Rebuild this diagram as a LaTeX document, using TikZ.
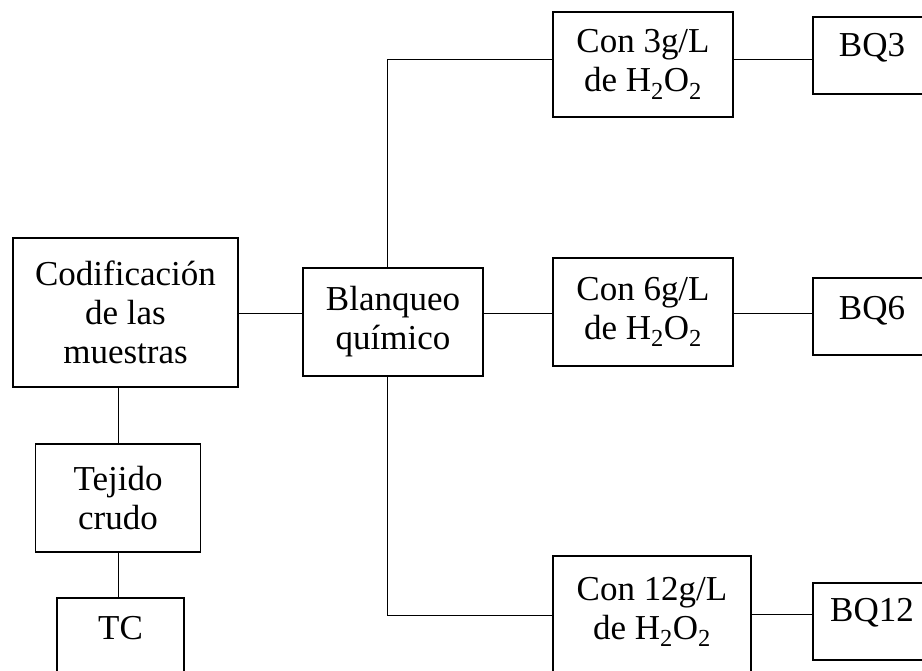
\documentclass[tikz,border=0pt]{standalone}
\usepackage{fontspec}
\setmainfont{Liberation Serif}
\begin{document}
\begin{tikzpicture}[x=1pt,y=-1pt,
  box/.style={draw, line width=1.3pt, inner sep=0pt, align=center,
    font=\fontsize{35}{39}\selectfont},
  lbl/.style={inner sep=0pt, align=center, font=\fontsize{35}{39}\selectfont},
  conn/.style={line width=0.9pt}]
\useasboundingbox (0,0) rectangle (922,671);
\clip (0,0) rectangle (922,671);
% boxes
\node[box, minimum width=225pt, minimum height=149pt] (cod) at (125.5,312.5) {Codificación\\de las\\muestras};
\node[box, minimum width=180pt, minimum height=108pt] (blan) at (393,322) {Blanqueo\\químico};
\node[box, minimum width=165pt, minimum height=108pt] (tej) at (118,498) {Tejido\\crudo};
\node[box, minimum width=127pt, minimum height=110pt] (tc) at (120.5,653) {};
\node[lbl] (tct) at (120.5,628) {TC};
\node[box, minimum width=180pt, minimum height=105pt] (con3) at (643,64.5) {Con 3g/L\\de H\textsubscript{2}O\textsubscript{2}};
\node[box, minimum width=180pt, minimum height=108pt] (con6) at (643,312) {Con 6g/L\\de H\textsubscript{2}O\textsubscript{2}};
\node[box, minimum width=198pt, minimum height=130pt] (con12) at (652,621) {};
\node[lbl] (con12t) at (652,612) {Con 12g/L\\de H\textsubscript{2}O\textsubscript{2}};
\node[box, minimum width=118pt, minimum height=77pt] (bq3) at (872,55.5) {};
\node[lbl] (bq3t) at (872,47.5) {BQ3};
\node[box, minimum width=118pt, minimum height=77pt] (bq6) at (872,316.5) {};
\node[lbl] (bq6t) at (872,311) {BQ6};
\node[box, minimum width=118pt, minimum height=77pt] (bq12) at (872,621.5) {};
\node[lbl] (bq12t) at (872,613) {BQ12};
% junction coordinates
\coordinate (ytop) at (387,59);
\coordinate (ymid) at (0,313);
\coordinate (ybot) at (387,615);
\coordinate (y12) at (0,614);
% connectors
\draw[conn] (cod.east |- ymid) -- (blan.west |- ymid);
\draw[conn] (tej.north |- cod.south) -- (tej.north);
\draw[conn] (tej.south) -- (tej.south |- tc.north);
\draw[conn] (ytop |- blan.north) -- (ytop) -- (ytop -| con3.west);
\draw[conn] (con3.east |- ytop) -- (bq3.west |- ytop);
\draw[conn] (blan.east |- ymid) -- (con6.west |- ymid);
\draw[conn] (con6.east |- ymid) -- (bq6.west |- ymid);
\draw[conn] (ybot |- blan.south) -- (ybot) -- (ybot -| con12.west);
\draw[conn] (con12.east |- y12) -- (bq12.west |- y12);
\end{tikzpicture}
\end{document}
